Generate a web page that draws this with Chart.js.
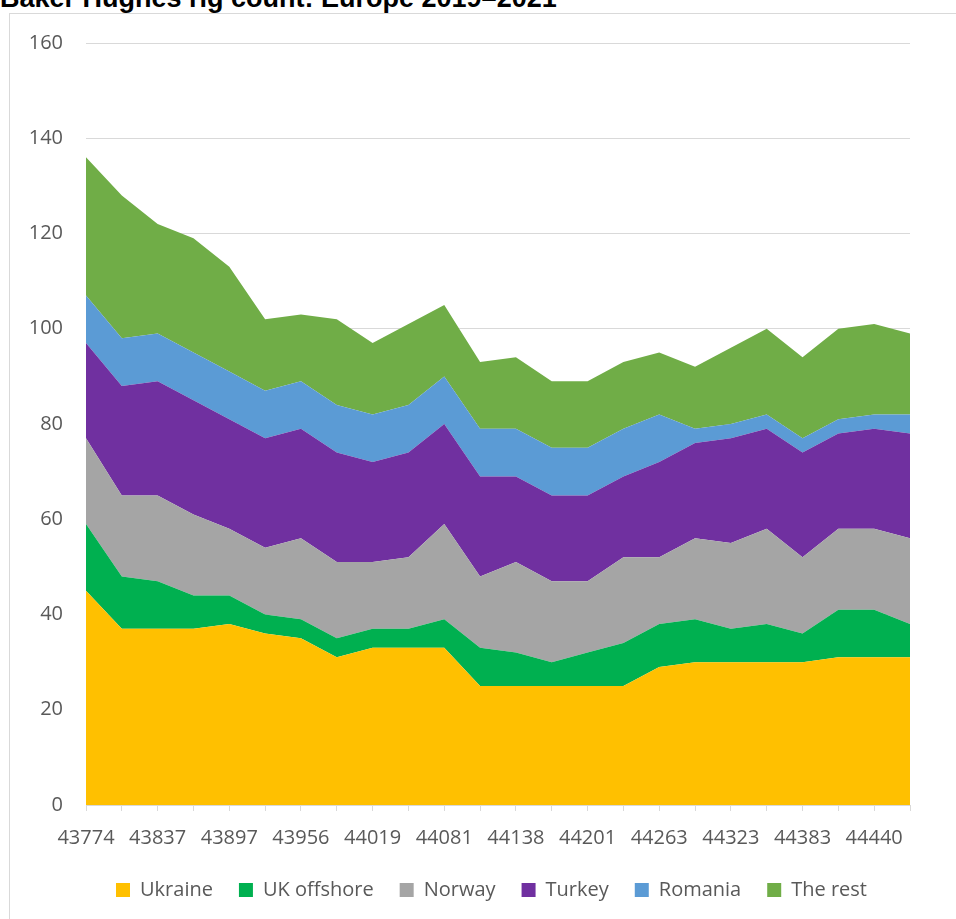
<!DOCTYPE html>
<html>
<head>
<meta charset="utf-8">
<script src="https://cdn.jsdelivr.net/npm/chart.js@4"></script>
<style>
  html, body { margin: 0; padding: 0; overflow: hidden; background: #fff; }
  #title {
    position: absolute; left: 0; top: -15px;
    font: bold 27px "Liberation Sans", Arial, sans-serif; line-height: 27px;
    color: #000; white-space: nowrap;
  }
  #box {
    position: absolute; left: 9px; top: 13px;
    width: 968px; height: 910px;
    border: 1px solid #d9d9d9;
  }
</style>
</head>
<body>
<div id="title">Baker Hughes rig count: Europe 2019–2021</div>
<div id="box"><canvas id="chart" width="968" height="910"></canvas></div>
<script>
// dates as Excel serial numbers, monthly
const dates = [43774, 43805, 43837, 43867, 43897, 43928, 43956, 43987, 44019, 44050, 44081, 44110,
               44138, 44169, 44201, 44232, 44263, 44293, 44323, 44354, 44383, 44411, 44440, 44470];

const ukraine    = [45, 37, 37, 37, 38, 36, 35, 31, 33, 33, 33, 25, 25, 25, 25, 25, 29, 30, 30, 30, 30, 31, 31, 31];
const ukOffshore = [14, 11, 10, 7, 6, 4, 4, 4, 4, 4, 6, 8, 7, 5, 7, 9, 9, 9, 7, 8, 6, 10, 10, 7];
const norway     = [18, 17, 18, 17, 14, 14, 17, 16, 14, 15, 20, 15, 19, 17, 15, 18, 14, 17, 18, 20, 16, 17, 17, 18];
const turkey     = [20, 23, 24, 24, 23, 23, 23, 23, 21, 22, 21, 21, 18, 18, 18, 17, 20, 20, 22, 21, 22, 20, 21, 22];
const romania    = [10, 10, 10, 10, 10, 10, 10, 10, 10, 10, 10, 10, 10, 10, 10, 10, 10, 3, 3, 3, 3, 3, 3, 4];
const theRest    = [29, 30, 23, 24, 22, 15, 14, 18, 15, 17, 15, 14, 15, 14, 14, 14, 13, 13, 16, 18, 17, 19, 19, 17];

const seriesNames  = ['Ukraine', 'UK offshore', 'Norway', 'Turkey', 'Romania', 'The rest'];
const seriesValues = [ukraine, ukOffshore, norway, turkey, romania, theRest];
const seriesColors = ['#FFC000', '#00B050', '#A5A5A5', '#7030A0', '#5B9BD5', '#70AD47'];

const yTicks = { min: 0, max: 160, step: 20 };

const textColor = '#595959';
const gridColor = '#d9d9d9';
const font = { family: '"Open Sans", sans-serif', size: 20 };

const datasets = seriesNames.map(function(name, i) {
    return {
        label: name,
        data: seriesValues[i],
        backgroundColor: seriesColors[i],
        borderColor: seriesColors[i],
        borderWidth: 0,
        pointRadius: 0,
        tension: 0,
        fill: i === 0 ? 'origin' : '-1'
    };
});

new Chart(document.getElementById('chart').getContext('2d'), {
    type: 'line',
    data: { labels: dates, datasets: datasets },
    options: {
        responsive: false,
        animation: false,
        events: [],
        layout: { padding: { left: 19, right: 24, top: 29, bottom: 14 } },
        plugins: {
            legend: {
                position: 'bottom',
                labels: {
                    boxWidth: 14,
                    boxHeight: 14,
                    padding: 26,
                    color: textColor,
                    font: font
                }
            },
            tooltip: { enabled: false }
        },
        scales: {
            x: {
                offset: false,
                grid: {
                    drawOnChartArea: false,
                    drawTicks: true,
                    tickLength: 6,
                    color: gridColor
                },
                border: { color: gridColor, width: 1 },
                ticks: {
                    autoSkip: false,
                    maxRotation: 0,
                    padding: 15,
                    color: textColor,
                    font: font,
                    callback: function(value, index) {
                        return index % 2 === 0 ? this.getLabelForValue(value) : '';
                    }
                },
                afterFit: function(scale) { scale.height = 49; }
            },
            y: {
                stacked: true,
                min: yTicks.min,
                max: yTicks.max,
                grid: { color: gridColor, drawTicks: false },
                border: { display: false },
                ticks: {
                    stepSize: yTicks.step,
                    padding: 23,
                    color: textColor,
                    // small lineHeight keeps the top label from pushing the plot down
                    font: { family: font.family, size: font.size, lineHeight: 0.5 }
                },
                afterFit: function(scale) { scale.width = 57; }
            },
            // empty right-hand space so the plot ends where the reference does
            yRight: {
                position: 'right',
                display: true,
                grid: { display: false },
                border: { display: false },
                ticks: { display: false },
                afterFit: function(scale) { scale.width = 44; }
            }
        }
    }
});
</script>
</body>
</html>
